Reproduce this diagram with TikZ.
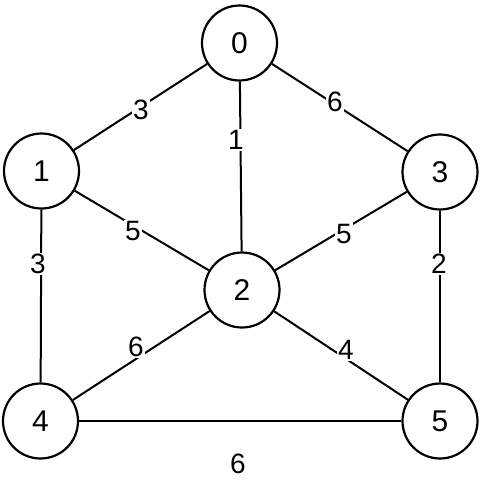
\documentclass[tikz,border=0pt]{standalone}
\usepackage{fontspec}
\setmainfont{Liberation Sans}
\begin{document}
\begin{tikzpicture}[x=1pt,y=-1pt,
  vert/.style={circle,draw,line width=2.2pt,minimum size=75pt,inner sep=0pt,font=\fontsize{30}{34}\selectfont},
  wt/.style={fill=white,inner sep=1pt,font=\fontsize{28}{32}\selectfont},
  edge/.style={line width=2pt}]
\useasboundingbox (0,0) rectangle (492,480);
\node[vert] (n0) at (239.5,43) {0};
\node[vert] (n1) at (41.5,171) {1};
\node[vert] (n3) at (440,172) {3};
\node[vert] (n2) at (242,290) {2};
\node[vert] (n4) at (40.5,421) {4};
\node[vert] (n5) at (440,421) {5};
\draw[edge] (n0) -- (n1);
\draw[edge] (n0) -- (n2);
\draw[edge] (n0) -- (n3);
\draw[edge] (n1) -- (n2);
\draw[edge] (n3) -- (n2);
\draw[edge] (n1) -- (n4);
\draw[edge] (n3) -- (n5);
\draw[edge] (n2) -- (n4);
\draw[edge] (n2) -- (n5);
\draw[edge] (n4) -- (n5);
\node[wt] (w01) at (141,110) {3};
\node[wt] (w02) at (236,140) {1};
\node[wt] (w03) at (335,102) {6};
\node[wt] (w12) at (133,231) {5};
\node[wt] (w32) at (344,234) {5};
\node[wt] (w14) at (38,264) {3};
\node[wt] (w35) at (439,264) {2};
\node[wt] (w24) at (136,347) {6};
\node[wt] (w25) at (346,350) {4};
\node[wt] (w45) at (238,464) {6};
\end{tikzpicture}
\end{document}
